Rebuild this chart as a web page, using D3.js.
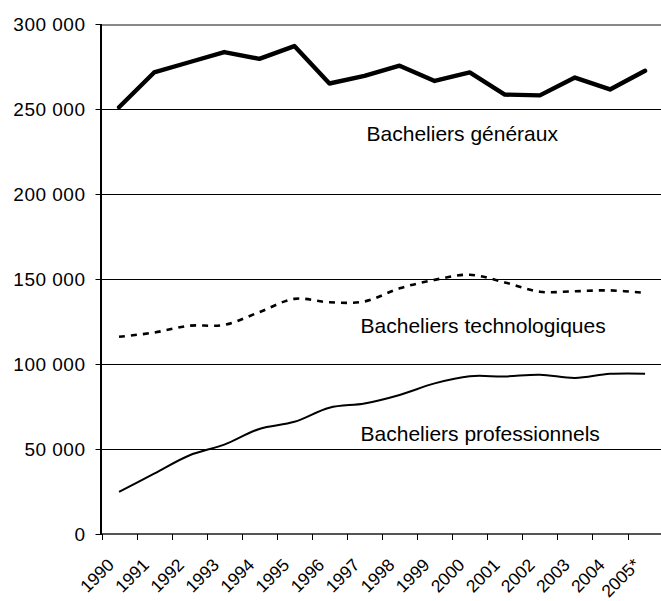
<!DOCTYPE html>
<html>
<head>
<meta charset="utf-8">
<script src="https://cdn.jsdelivr.net/npm/d3@7"></script>
<style>
  body { margin: 0; background: #fff; }
  svg { display: block; font-family: "Liberation Sans", Arial, sans-serif; }
</style>
</head>
<body>
<svg id="chart" width="661" height="601"></svg>
<script>
// years on the x axis (2005 is provisional)
const years = ["1990", "1991", "1992", "1993", "1994", "1995", "1996", "1997",
  "1998", "1999", "2000", "2001", "2002", "2003", "2004", "2005*"];

const generaux = [251000, 271500, 277500, 283500, 279500, 287000, 265000, 269500,
  275500, 266500, 271500, 258500, 258000, 268500, 261500, 272500];
const technologiques = [116000, 118500, 122500, 123000, 130500, 138300, 136300, 136800,
  144500, 149500, 152500, 148000, 142500, 142800, 143300, 141800];
const professionnels = [24800, 35500, 46200, 52600, 61800, 66000, 74300, 76800,
  81800, 88600, 92800, 92700, 93700, 91800, 94200, 94300];

const yTicks = [0, 50000, 100000, 150000, 200000, 250000, 300000];

// label text, anchor year and value for the inline series names
const labels = [
  { text: "Bacheliers généraux", year: "1997", value: 231000, dx: 2 },
  { text: "Bacheliers technologiques", year: "1997", value: 118000, dx: -4 },
  { text: "Bacheliers professionnels", year: "1997", value: 55000, dx: -4 }
];

const svg = d3.select("#chart");
const margin = { left: 101.5, right: 662.6, top: 24, bottom: 534 };

const x = d3.scaleBand().domain(years).range([margin.left, margin.right]).paddingInner(0).paddingOuter(0);
const y = d3.scaleLinear().domain([0, 300000]).range([margin.bottom, margin.top]);
const cx = d => x(d) + x.bandwidth() / 2;

const fmt = v => d3.format(",")(v).replace(/,/g, " ");

// gridlines
svg.append("g").selectAll("line")
  .data(yTicks.filter(d => d > 0 && d < 300000))
  .enter().append("line")
  .attr("x1", margin.left).attr("x2", 661)
  .attr("y1", d => Math.round(y(d)) + 0.5).attr("y2", d => Math.round(y(d)) + 0.5)
  .attr("stroke", "#000").attr("stroke-width", 1);

// top border of plot area
svg.append("line")
  .attr("x1", margin.left).attr("x2", 661)
  .attr("y1", y(300000) + 1).attr("y2", y(300000) + 1)
  .attr("stroke", "#888").attr("stroke-width", 2);

// x axis line
svg.append("line")
  .attr("x1", margin.left).attr("x2", 661)
  .attr("y1", margin.bottom).attr("y2", margin.bottom)
  .attr("stroke", "#555").attr("stroke-width", 2);

// y axis line
svg.append("line")
  .attr("x1", margin.left - 0.5).attr("x2", margin.left - 0.5)
  .attr("y1", margin.top).attr("y2", margin.bottom + 1)
  .attr("stroke", "#000").attr("stroke-width", 2);

// y ticks + labels
const yt = svg.append("g").selectAll("g")
  .data(yTicks).enter().append("g")
  .attr("transform", d => "translate(0," + (Math.round(y(d)) + 0.5) + ")");
yt.append("line")
  .attr("x1", margin.left - 6).attr("x2", margin.left)
  .attr("stroke", "#000").attr("stroke-width", 1);
yt.append("text")
  .attr("x", 85.5).attr("y", 6.5)
  .attr("text-anchor", "end")
  .style("font-size", "19px")
  .style("letter-spacing", "0.5px")
  .text(d => fmt(d));

// x ticks at band edges
svg.append("g").selectAll("line")
  .data(years).enter().append("line")
  .attr("x1", d => Math.round(x(d)) + 0.5).attr("x2", d => Math.round(x(d)) + 0.5)
  .attr("y1", margin.bottom).attr("y2", margin.bottom + 6)
  .attr("stroke", "#000").attr("stroke-width", 1);

// x tick labels rotated
svg.append("g").selectAll("text")
  .data(years).enter().append("text")
  .attr("transform", d => "translate(" + (cx(d) - 4) + "," + 566 + ") rotate(-45)")
  .attr("text-anchor", "end")
  .style("font-size", "17.5px")
  .text(d => d);

// lines
const straight = d3.line().x((d, i) => cx(years[i])).y(d => y(d));
const smooth = d3.line().x((d, i) => cx(years[i])).y(d => y(d)).curve(d3.curveCatmullRom.alpha(0.5));

svg.append("path").datum(generaux)
  .attr("d", straight)
  .attr("fill", "none").attr("stroke", "#000").attr("stroke-width", 4.4)
  .attr("stroke-linejoin", "round").attr("stroke-linecap", "round");

svg.append("path").datum(technologiques)
  .attr("d", smooth)
  .attr("fill", "none").attr("stroke", "#000").attr("stroke-width", 2.6)
  .attr("stroke-dasharray", "6,6");

svg.append("path").datum(professionnels)
  .attr("d", smooth)
  .attr("fill", "none").attr("stroke", "#000").attr("stroke-width", 2);

// series labels
svg.append("g").selectAll("text")
  .data(labels).enter().append("text")
  .attr("x", d => cx(d.year) + d.dx)
  .attr("y", d => y(d.value))
  .style("font-size", "21px")
  .text(d => d.text);
</script>
</body>
</html>
